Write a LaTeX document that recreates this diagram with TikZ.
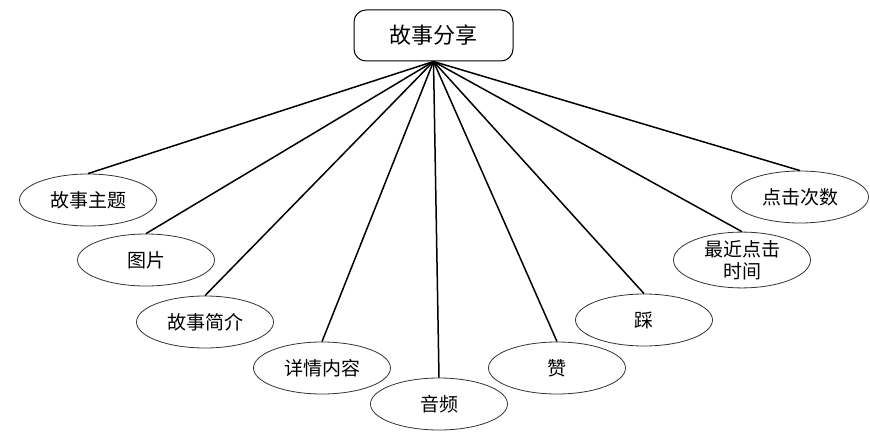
\documentclass[tikz,border=0pt]{standalone}
\usepackage{fontspec}
\setmainfont{Noto Sans CJK SC}
\usetikzlibrary{shapes.geometric}

\tikzset{
  story/.style={rectangle, rounded corners=12pt, draw=black, line width=1pt,
    minimum width=159pt, minimum height=51pt, inner sep=0pt,
    font=\fontsize{22}{24}\selectfont},
  attr/.style={ellipse, draw=black!80, line width=0.8pt,
    minimum width=137pt, minimum height=52pt, inner sep=0pt, align=center,
    font=\fontsize{19}{22}\selectfont},
  link/.style={line width=1.5pt}
}

\begin{document}
\begin{tikzpicture}[x=1pt,y=-1pt]
\useasboundingbox (0,0) rectangle (870,436);

% Entity
\node[story] (share) at (433.5,35.5) {故事分享};

% Attributes, left side
\node[attr] (theme) at (88,200) {故事主题};
\node[attr] (pic) at (146,260) {图片};
\node[attr] (intro) at (205,322) {故事简介};
\node[attr] (detail) at (322,368) {详情内容};
\node[attr] (audio) at (439,404) {音频};

% Attributes, right side
\node[attr] (like) at (557,368) {赞};
\node[attr] (dislike) at (644,320) {踩};
\node[attr] (recent) at (742,260) {最近点击\\时间};
\node[attr] (clicks) at (800,197) {点击次数};

% Links
\foreach \a in {theme,pic,intro,detail,audio,like,dislike,recent,clicks}
  \draw[link] (share.south) -- (\a.north);
\end{tikzpicture}
\end{document}
